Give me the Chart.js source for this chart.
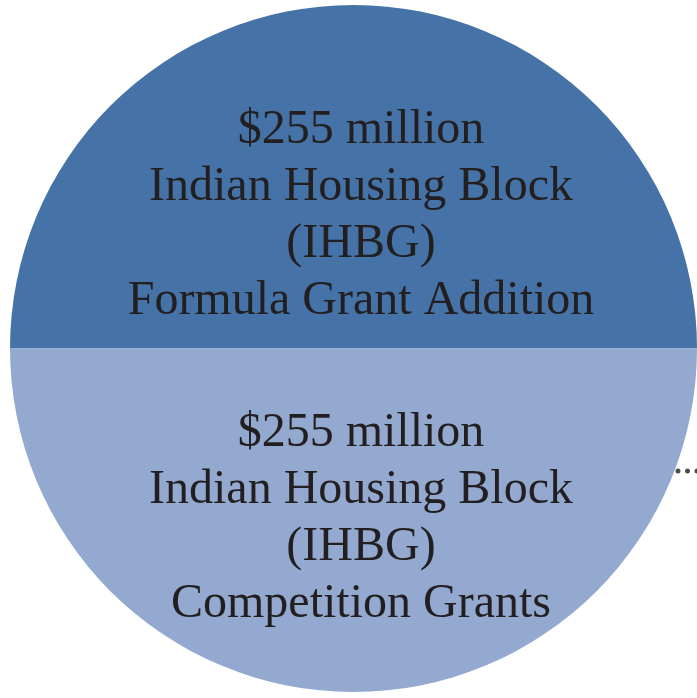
<!DOCTYPE html>
<html>
<head>
<meta charset="utf-8">
<script src="https://cdn.jsdelivr.net/npm/chart.js@4"></script>
<style>
  html, body { margin: 0; padding: 0; background: #ffffff; }
  body { width: 697px; height: 698px; position: relative; overflow: hidden; }
  #wrap { position: absolute; left: 10px; top: 5px; width: 687px; height: 687px; }
</style>
</head>
<body>
<div id="wrap"><canvas id="c"></canvas></div>
<script>
const categories = [
  "Indian Housing Block (IHBG) Formula Grant Addition",
  "Indian Housing Block (IHBG) Competition Grants"
];
const values = [255, 255];
const amountLabels = ["$255 million", "$255 million"];
const labelLines = [
  ["Indian Housing Block", "(IHBG)", "Formula Grant Addition"],
  ["Indian Housing Block", "(IHBG)", "Competition Grants"]
];
const colors = ["#4572a7", "#93a9cf"];

const labelPlugin = {
  id: 'sliceLabels',
  afterDatasetsDraw(chart) {
    const ctx = chart.ctx;
    const meta = chart.getDatasetMeta(0);
    const arc = meta.data[0];
    const cx = arc.x, cy = arc.y, r = arc.outerRadius;
    ctx.save();
    ctx.fillStyle = '#231f20';
    ctx.font = '48px "Liberation Serif", "DejaVu Serif", serif';
    ctx.textAlign = 'center';
    ctx.textBaseline = 'alphabetic';
    const lh = 57;
    const starts = [cy - 205.5, cy + 97.5];
    meta.data.forEach((a, i) => {
      const lines = [amountLabels[i]].concat(labelLines[i]);
      lines.forEach((t, j) => ctx.fillText(t, cx + 7.5, starts[i] + j * lh));
    });
    // dotted leader line on the right
    ctx.strokeStyle = '#4d4d4d';
    ctx.lineWidth = 5;
    ctx.lineCap = 'round';
    ctx.setLineDash([0, 9.5]);
    ctx.beginPath();
    ctx.moveTo(cx + r - 19, cy + 122.5);
    ctx.lineTo(cx + r + 10, cy + 122.5);
    ctx.stroke();
    ctx.restore();
  }
};

new Chart(document.getElementById('c'), {
  type: 'pie',
  data: {
    labels: categories,
    datasets: [{
      data: values,
      backgroundColor: colors,
      borderWidth: 0
    }]
  },
  options: {
    responsive: true,
    maintainAspectRatio: false,
    animation: false,
    rotation: -90,
    layout: { padding: 0 },
    plugins: { legend: { display: false }, tooltip: { enabled: false } }
  },
  plugins: [labelPlugin]
});
</script>
</body>
</html>
